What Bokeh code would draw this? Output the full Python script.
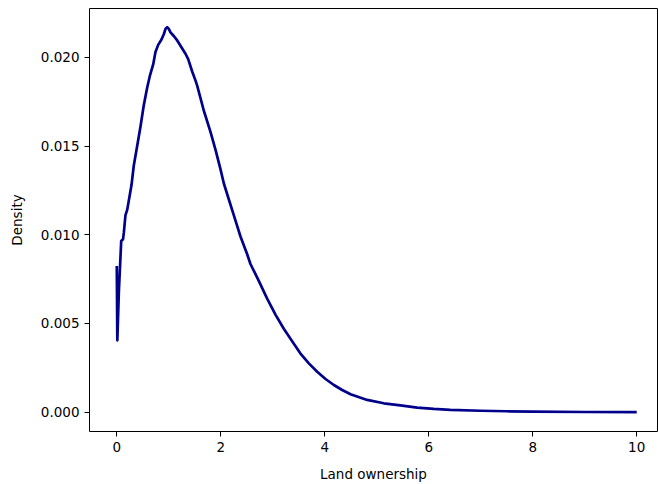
from bokeh.plotting import figure
from bokeh.models import FixedTicker, PrintfTickFormatter, Range1d
from bokeh.embed import file_html
from bokeh.resources import INLINE

# Density curve
land = [0.000, 0.010, 0.040, 0.085, 0.120, 0.135, 0.167, 0.200, 0.283, 0.327,
        0.392, 0.456, 0.519, 0.585, 0.640, 0.700, 0.744, 0.796, 0.860, 0.904,
        0.937, 0.969, 1.000, 1.033, 1.096, 1.162, 1.258, 1.321, 1.373, 1.450,
        1.513, 1.546, 1.673, 1.802, 1.898, 1.994, 2.058, 2.154, 2.250, 2.379,
        2.508, 2.571, 2.731, 2.892, 3.052, 3.212, 3.373, 3.533, 3.694, 3.854,
        4.015, 4.175, 4.335, 4.496, 4.815, 5.135, 5.456, 5.777, 6.096, 6.417,
        7.0, 7.5, 8.0, 9.0, 10.0]
density = [0.00824, 0.00405, 0.0068, 0.00965, 0.00975, 0.0101, 0.0111, 0.0114,
           0.0128, 0.0139, 0.0150, 0.0161, 0.0173, 0.0183, 0.0190, 0.0196, 0.0203,
           0.0207, 0.0210, 0.0213, 0.0216, 0.0217, 0.0216, 0.0214, 0.0212, 0.02095,
           0.0205, 0.0202, 0.0199, 0.0192, 0.0187, 0.0184, 0.0170, 0.0158, 0.0148,
           0.0137, 0.0129, 0.0120, 0.0111, 0.0099, 0.0089, 0.00835, 0.0074, 0.0064,
           0.0055, 0.0047, 0.0040, 0.0033, 0.00275, 0.00228, 0.00187, 0.00153,
           0.00125, 0.00101, 0.00069, 0.00050, 0.00038, 0.00026, 0.00018, 0.00013,
           0.00008, 0.00005, 0.00003, 0.00001, 0.000005]
x_ticks = [0, 2, 4, 6, 8, 10]
y_ticks = [0.0, 0.005, 0.010, 0.015, 0.020]

FONT = "DejaVu Sans"

p = figure(width=658, height=484, output_backend="svg", toolbar_location=None,
           x_range=Range1d(-0.525, 10.40), y_range=Range1d(-0.00109, 0.02275),
           min_border_left=89, min_border_right=1, min_border_top=8, min_border_bottom=51)

p.line(land, density, line_color="#00008B", line_width=2.7, line_join="round")

p.xgrid.visible = False
p.ygrid.visible = False
p.outline_line_color = "black"
p.outline_line_width = 1
p.background_fill_color = "white"
p.border_fill_color = "white"

for ax in (p.xaxis[0], p.yaxis[0]):
    ax.axis_line_color = None
    ax.major_tick_line_color = "black"
    ax.major_tick_line_width = 1
    ax.major_tick_out = 5
    ax.major_tick_in = 0
    ax.minor_tick_line_color = None
    ax.major_label_text_font = FONT
    ax.major_label_text_font_size = "13.5px"
    ax.major_label_text_color = "black"
    ax.axis_label_text_font = FONT
    ax.axis_label_text_font_size = "13.5px"
    ax.axis_label_text_font_style = "normal"
    ax.axis_label_text_color = "black"
    ax.major_label_standoff = 5

p.xaxis.ticker = FixedTicker(ticks=x_ticks)
p.xaxis.formatter = PrintfTickFormatter(format="%d")
p.xaxis.axis_label = "Land ownership"
p.xaxis.axis_label_standoff = 11

p.yaxis.ticker = FixedTicker(ticks=y_ticks)
p.yaxis.formatter = PrintfTickFormatter(format="%.3f")
p.yaxis.axis_label = "Density"
p.yaxis.axis_label_standoff = 13

open("out.html", "w").write(file_html(p, INLINE))
